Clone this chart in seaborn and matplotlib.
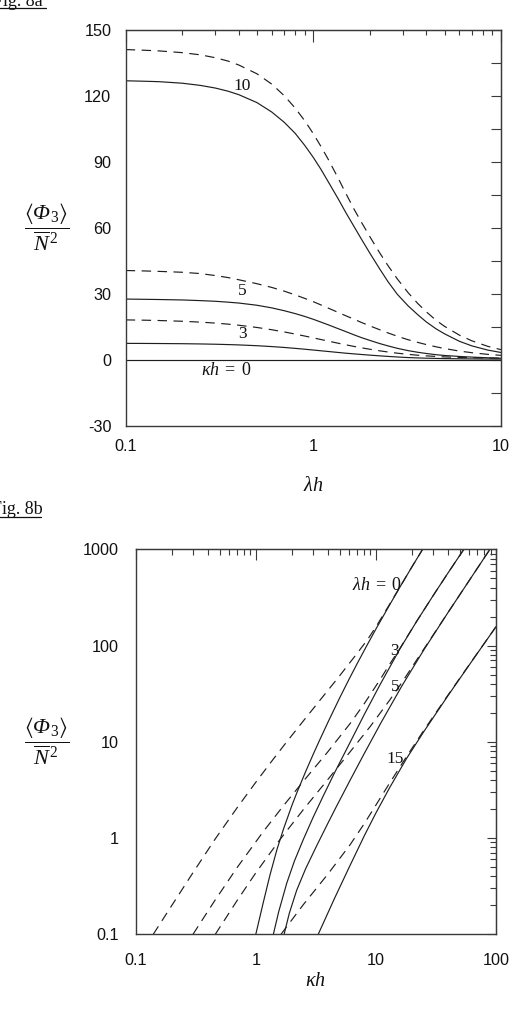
import numpy as np
import matplotlib
matplotlib.use("Agg")
import matplotlib.pyplot as plt
import seaborn as sns
from matplotlib.ticker import NullFormatter, LogLocator, MultipleLocator
from matplotlib.lines import Line2D

sns.set_style("white")
plt.rcParams["font.family"] = ["Liberation Sans", "DejaVu Sans"]
plt.rcParams["mathtext.fontset"] = "custom"
plt.rcParams["mathtext.rm"] = "Liberation Serif"
plt.rcParams["mathtext.it"] = "Liberation Serif:italic"
plt.rcParams["mathtext.bf"] = "Liberation Serif:bold"
plt.rcParams["mathtext.sf"] = "Liberation Serif:italic"
plt.rcParams["mathtext.fallback"] = "stix"

# ---------------- Fig. 8a : <Phi3>/N^2 versus lambda*h ----------------
lam_h = [0.1, 0.125, 0.15, 0.2, 0.25, 0.3, 0.35, 0.4, 0.5, 0.6, 0.7, 0.8, 0.9, 1.0,
         1.1, 1.2, 1.35, 1.5, 1.65, 1.8, 2.0, 2.25, 2.5, 2.8, 3.2, 3.6, 4.0, 4.5,
         5.0, 6.0, 7.0, 8.5, 10.0]
a_kh0 = [0] * 33
a_kh3_solid = [7.45, 7.42, 7.38, 7.30, 7.19, 7.06, 6.91, 6.75, 6.39, 5.99, 5.59, 5.18,
               4.79, 4.42, 4.07, 3.76, 3.33, 2.96, 2.66, 2.40, 2.10, 1.78, 1.52, 1.26,
               0.99, 0.83, 0.71, 0.61, 0.53, 0.44, 0.38, 0.33, 0.30]
a_kh3_dash = [18.13, 18.0, 17.85, 17.51, 17.11, 16.68, 16.21, 15.71, 14.69, 13.65,
              12.65, 11.68, 10.78, 9.95, 9.18, 8.49, 7.55, 6.75, 6.05, 5.45, 4.77, 4.08,
              3.52, 2.99, 2.45, 2.06, 1.77, 1.50, 1.30, 1.05, 0.90, 0.78, 0.70]
a_kh5_solid = [27.6, 27.5, 27.4, 27.2, 26.9, 26.6, 26.2, 25.8, 24.8, 23.6, 22.3, 21.0,
               19.7, 18.4, 17.1, 15.9, 14.2, 12.7, 11.3, 10.1, 8.8, 7.4, 6.3, 5.2,
               4.15, 3.4, 2.85, 2.3, 1.95, 1.5, 1.2, 0.9, 0.7]
a_kh5_dash = [40.6, 40.4, 40.2, 39.8, 39.2, 38.3, 37.4, 36.4, 34.6, 32.9, 31.2, 29.5,
              27.9, 26.4, 24.9, 23.5, 21.6, 19.9, 18.4, 17.0, 15.4, 13.7, 12.2, 10.7,
              9.1, 7.9, 6.9, 5.9, 5.1, 3.95, 3.2, 2.45, 2.0]
a_kh10_solid = [126.9, 126.7, 126.5, 125.8, 124.8, 123.6, 122.2, 120.6, 117.0, 112.7,
                108.0, 103.0, 97.5, 92.0, 86.5, 81.0, 73.5, 66.5, 60.5, 55.0, 48.5,
                41.5, 35.5, 29.8, 24.5, 20.5, 17.2, 14.1, 11.8, 8.4, 6.3, 4.4, 3.3]
a_kh10_dash = [141.1, 140.8, 140.5, 139.7, 138.7, 137.4, 135.9, 134.1, 130.1, 125.4,
               120.1, 114.5, 108.7, 102.8, 96.9, 91.2, 82.9, 75.2, 68.4, 62.7, 56.0,
               48.8, 42.8, 36.8, 30.5, 25.6, 21.8, 18.0, 15.2, 11.2, 8.6, 6.1, 4.6]
a_yticks = [-30, 0, 30, 60, 90, 120, 150]
a_xticks = [0.1, 1, 10]
a_xticklabels = ["0.1", "1", "10"]
a_curve_labels = ["10", "5", "3"]

# ---------------- Fig. 8b : <Phi3>/N^2 versus kappa*h ----------------
b_l0_solid_kh = [1.0, 1.15, 1.31, 1.5, 1.7, 2.0, 2.2, 2.6, 3.0, 3.35, 4.0, 5.0, 6.0,
                 7.0, 8.5, 10.0, 13.0, 16.0, 20.0, 24.5]
b_l0_solid_v = [0.1, 0.21, 0.41, 0.76, 1.24, 2.19, 2.97, 4.9, 7.37, 10.0, 16.1, 28.7,
                45.1, 65.3, 102.6, 148.3, 264.0, 413.0, 660.0, 1000.0]
b_l0_dash_kh = [0.14, 0.2, 0.3, 0.457, 0.7, 1.0, 1.4, 1.81, 2.5, 3.5, 5.0, 7.0, 8.5,
                10.0, 13.0, 16.0, 20.0, 24.5]
b_l0_dash_v = [0.1, 0.2, 0.437, 0.97, 2.07, 3.8, 6.62, 10.0, 16.6, 28.0, 48.7, 83.4,
               115.0, 156.0, 268.0, 414.0, 660.0, 1000.0]
b_l3_solid_kh = [1.40, 1.55, 1.81, 2.1, 2.49, 3.0, 3.65, 4.5, 6.08, 8.0, 10.8, 15.9,
                 22.0, 30.0, 40.0, 54.0]
b_l3_solid_v = [0.1, 0.171, 0.34, 0.58, 0.97, 1.64, 2.75, 4.7, 9.8, 19.2, 39.0, 93.0,
                181.0, 331.0, 572.0, 1000.0]
b_l3_dash_kh = [0.30, 0.45, 0.7, 1.15, 1.7, 2.65, 4.0, 6.08, 8.0, 10.8, 13.0, 15.9,
                22.0, 30.0, 40.0, 54.0]
b_l3_dash_v = [0.1, 0.219, 0.495, 1.16, 2.17, 4.28, 7.94, 15.4, 24.9, 44.0, 63.8,
               94.0, 181.0, 331.0, 572.0, 1000.0]
b_l5_solid_kh = [1.72, 1.9, 2.19, 2.6, 3.21, 4.0, 4.72, 6.08, 8.0, 11.0, 16.4, 25.0,
                 40.0, 60.0, 89.0]
b_l5_solid_v = [0.1, 0.165, 0.287, 0.48, 0.83, 1.44, 2.16, 3.96, 7.55, 15.7, 37.8,
                89.7, 222.0, 476.0, 1000.0]
b_l5_dash_kh = [0.46, 0.7, 1.0, 1.58, 2.5, 4.0, 6.08, 9.0, 13.0, 16.4, 25.0, 40.0,
                60.0, 89.0]
b_l5_dash_v = [0.1, 0.225, 0.435, 0.956, 1.99, 4.09, 7.83, 14.5, 27.0, 41.0, 91.5,
               222.0, 476.0, 1000.0]
b_l15_solid_kh = [3.31, 4.5, 6.0, 8.0, 10.0, 13.0, 18.0, 25.0, 40.0, 60.0, 100.0]
b_l15_solid_v = [0.1, 0.233, 0.499, 1.054, 1.82, 3.33, 6.71, 12.7, 30.4, 63.1, 157.0]
b_l15_dash_kh = [1.62, 2.5, 4.0, 6.08, 8.0, 10.0, 13.0, 18.0, 25.0, 40.0, 60.0, 100.0]
b_l15_dash_v = [0.1, 0.205, 0.425, 0.848, 1.41, 2.2, 3.72, 7.02, 13.1, 30.8, 63.5, 157.0]
b_yticks = [0.1, 1, 10, 100, 1000]
b_yticklabels = ["0.1", "1", "10", "100", "1000"]
b_xticks = [0.1, 1, 10, 100]
b_xticklabels = ["0.1", "1", "10", "100"]
b_curve_labels = ["3", "5", "15"]

LINE = "#1e1e1e"
SPINE = "#3a3a3a"
TXT = "#111111"
LW = 0.85
DASH = (8.0, 5.5)
PX = 0.72  # points per pixel at 100 dpi

fig = plt.figure(figsize=(5.11, 10.10), dpi=100)
ax1 = fig.add_axes([125.7 / 511, 1 - 425.7 / 1010, (501 - 125.7) / 511, (425.7 - 30) / 1010])
ax2 = fig.add_axes([135.7 / 511, 1 - 934.3 / 1010, (496 - 135.7) / 511, (934.3 - 549.3) / 1010])


def curve(ax, x, y, dashed=False):
    sns.lineplot(x=x, y=y, ax=ax, color=LINE, linewidth=LW, estimator=None)
    ln = ax.lines[-1]
    if dashed:
        ln.set_dashes(DASH)
    ln.set_solid_capstyle("butt")
    ln.set_dash_capstyle("butt")


# ---- panel a ----
curve(ax1, lam_h, a_kh0)
curve(ax1, lam_h, a_kh3_solid)
curve(ax1, lam_h, a_kh3_dash, True)
curve(ax1, lam_h, a_kh5_solid)
curve(ax1, lam_h, a_kh5_dash, True)
curve(ax1, lam_h, a_kh10_solid)
curve(ax1, lam_h, a_kh10_dash, True)
ax1.set_xscale("log")
ax1.set_xlim(0.1, 10)
ax1.set_ylim(-30, 150)

# ---- panel b ----
curve(ax2, b_l0_solid_kh, b_l0_solid_v)
curve(ax2, b_l0_dash_kh, b_l0_dash_v, True)
curve(ax2, b_l3_solid_kh, b_l3_solid_v)
curve(ax2, b_l3_dash_kh, b_l3_dash_v, True)
curve(ax2, b_l5_solid_kh, b_l5_solid_v)
curve(ax2, b_l5_dash_kh, b_l5_dash_v, True)
curve(ax2, b_l15_solid_kh, b_l15_solid_v)
curve(ax2, b_l15_dash_kh, b_l15_dash_v, True)
ax2.set_xscale("log")
ax2.set_yscale("log")
ax2.set_xlim(0.1, 100)
ax2.set_ylim(0.1, 1000)

for ax in (ax1, ax2):
    for s in ax.spines.values():
        s.set_color(SPINE)
        s.set_linewidth(1.0)
    ax.set_xlabel("")
    ax.set_ylabel("")

TICKFS = 11.7
subs = np.arange(2, 10)

# panel a ticks (left/bottom outward, top/right inward)
ax1.set_xticks(a_xticks, a_xticklabels)
ax1.xaxis.set_minor_locator(LogLocator(base=10, subs=subs))
ax1.xaxis.set_minor_formatter(NullFormatter())
ax1.set_yticks(a_yticks, [str(v) for v in a_yticks])
ax1.yaxis.set_minor_locator(MultipleLocator(15))
ax1.tick_params(axis="both", which="both", direction="out", color=SPINE, width=0.8,
                labelsize=TICKFS, labelcolor=TXT, top=False, right=False)
ax1.tick_params(axis="x", which="major", length=10 * PX, pad=2.5)
ax1.tick_params(axis="x", which="minor", length=5 * PX)
ax1.tick_params(axis="y", which="major", length=10 * PX, pad=3.2)
ax1.tick_params(axis="y", which="minor", length=5 * PX)

sx1 = ax1.secondary_xaxis("top")
sx1.set_xticks(a_xticks)
sx1.xaxis.set_minor_locator(LogLocator(base=10, subs=subs))
sx1.xaxis.set_major_formatter(NullFormatter())
sx1.xaxis.set_minor_formatter(NullFormatter())
sx1.tick_params(which="both", direction="in", color=SPINE, width=0.8, labeltop=False)
sx1.tick_params(which="major", length=12 * PX)
sx1.tick_params(which="minor", length=5 * PX)
sx1.spines["top"].set_color(SPINE)

sy1 = ax1.secondary_yaxis("right")
sy1.set_yticks(list(range(-30, 151, 15)))
sy1.yaxis.set_major_formatter(NullFormatter())
sy1.tick_params(which="both", direction="in", color=SPINE, width=0.8, labelright=False,
                length=10 * PX)
sy1.spines["right"].set_color(SPINE)

# panel b ticks
ax2.set_xticks(b_xticks, b_xticklabels)
ax2.xaxis.set_minor_locator(LogLocator(base=10, subs=subs))
ax2.xaxis.set_minor_formatter(NullFormatter())
ax2.set_yticks(b_yticks, b_yticklabels)
ax2.yaxis.set_minor_locator(LogLocator(base=10, subs=subs))
ax2.yaxis.set_minor_formatter(NullFormatter())
ax2.tick_params(axis="both", which="both", direction="out", color=SPINE, width=0.8,
                labelsize=TICKFS, labelcolor=TXT, top=False, right=False)
ax2.tick_params(axis="x", which="major", length=10 * PX, pad=6.5)
ax2.tick_params(axis="x", which="minor", length=6 * PX)
ax2.tick_params(axis="y", which="major", length=10 * PX, pad=5.0)
ax2.tick_params(axis="y", which="minor", length=8 * PX)

sx2 = ax2.secondary_xaxis("top")
sx2.set_xticks(b_xticks)
sx2.xaxis.set_minor_locator(LogLocator(base=10, subs=subs))
sx2.xaxis.set_major_formatter(NullFormatter())
sx2.xaxis.set_minor_formatter(NullFormatter())
sx2.tick_params(which="both", direction="in", color=SPINE, width=0.8, labeltop=False)
sx2.tick_params(which="major", length=11 * PX)
sx2.tick_params(which="minor", length=6 * PX)
sx2.spines["top"].set_color(SPINE)

sy2 = ax2.secondary_yaxis("right")
sy2.set_yticks(b_yticks)
sy2.yaxis.set_minor_locator(LogLocator(base=10, subs=subs))
sy2.yaxis.set_major_formatter(NullFormatter())
sy2.yaxis.set_minor_formatter(NullFormatter())
sy2.tick_params(which="both", direction="in", color=SPINE, width=0.8, labelright=False)
sy2.tick_params(which="major", length=9 * PX)
sy2.tick_params(which="minor", length=6 * PX)
sy2.spines["right"].set_color(SPINE)

# axis labels
ylab = r"$\dfrac{\langle \mathsf{\Phi}_{3} \rangle}{\overline{N}^{\,2}}$"
for ax, xlab, xly, yx in ((ax1, r"$\lambda h$", -0.150, -0.211),
                          (ax2, r"$\kappa h$", -0.119, -0.247)):
    ax.set_xlabel(xlab, fontsize=14.5, color=TXT)
    ax.xaxis.set_label_coords(0.5, xly)
    ax.xaxis.label.set_va("center")
    ax.set_ylabel(ylab, fontsize=16, rotation=0, color=TXT)
    ax.yaxis.set_label_coords(yx, 0.5)
    ax.yaxis.label.set_va("center")
    ax.yaxis.label.set_ha("center")

# curve annotations
SERIF = ["Liberation Serif", "DejaVu Serif"]
kw = dict(family=SERIF, fontsize=12.5, ha="center", va="center", color=TXT)
ax1.text(0.415, 124.5, a_curve_labels[0], **kw)
ax1.text(0.42, 31.1, a_curve_labels[1], **kw)
ax1.text(0.42, 11.5, a_curve_labels[2], **kw)
ax1.text(0.345, -4.9, r"$\kappa h\;=\;0$", fontsize=13, ha="center", va="center", color=TXT)

ax2.text(10.2, 425, r"$\lambda h\;=\;0$", fontsize=13, ha="center", va="center", color=TXT)
ax2.text(14.4, 88, b_curve_labels[0], **kw)
ax2.text(14.4, 36.8, b_curve_labels[1], **kw)
ax2.text(14.5, 6.7, b_curve_labels[2], **kw)

# figure captions (underlined, partly cut off like the source scan)
fig.text(-7 / 511, 1 - 6 / 1010, "Fig. 8a", family=SERIF, fontsize=13, va="baseline", ha="left", color=TXT)
fig.add_artist(Line2D([-7 / 511, 46 / 511], [1 - 7.6 / 1010] * 2, color=TXT, lw=0.9))
fig.text(-8 / 511, 1 - 514 / 1010, "Fig. 8b", family=SERIF, fontsize=13, va="baseline", ha="left", color=TXT)
fig.add_artist(Line2D([-8 / 511, 41 / 511], [1 - 516.5 / 1010] * 2, color=TXT, lw=0.9))

fig.savefig("out.png", dpi=100, facecolor="white")
